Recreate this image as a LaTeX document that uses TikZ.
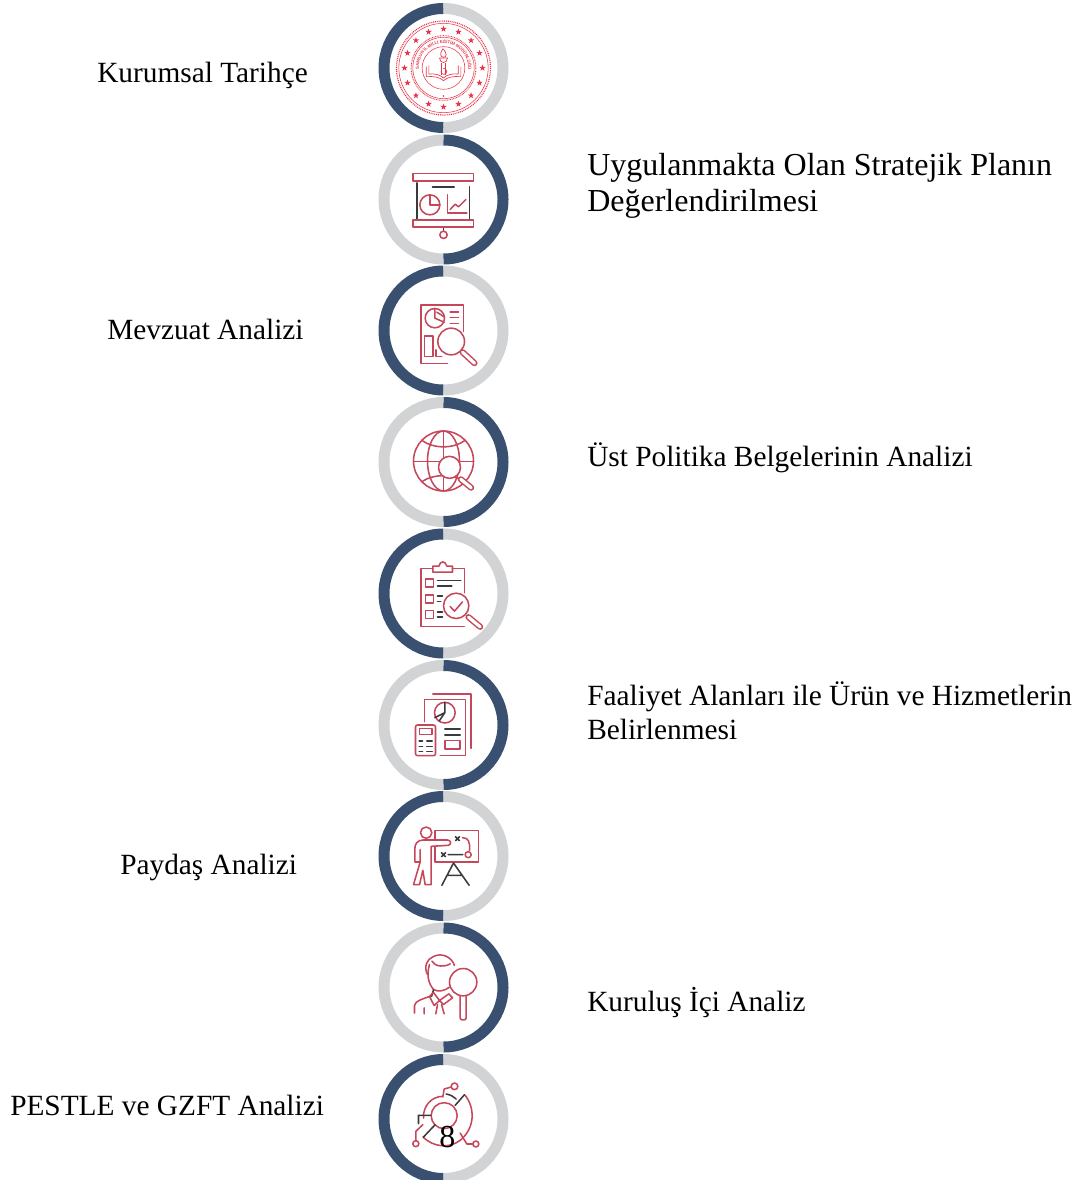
\documentclass[tikz,border=0pt]{standalone}
\usepackage{fontspec}
\setmainfont{Liberation Serif}
\newfontfamily\emblemfont{Liberation Sans}
\usetikzlibrary{decorations.text}
\definecolor{navy}{HTML}{3A5070}
\definecolor{ringgrey}{HTML}{D1D3D4}
\definecolor{iconred}{HTML}{C4475A}
\definecolor{emblemred}{HTML}{E8344A}
\definecolor{icondark}{HTML}{3A3A3C}
\tikzset{
  ringpart/.style={line width=8.25pt,line cap=butt},
  label/.style={anchor=base west,inner sep=0pt,font=\fontsize{22pt}{24pt}\selectfont},
  biglabel/.style={label,font=\fontsize{24pt}{26pt}\selectfont},
  ic/.style={draw=iconred,line width=1.15pt,line join=round,line cap=round,fill=none},
  dk/.style={draw=icondark,line width=1.15pt,line cap=round,fill=none},
  em/.style={draw=emblemred,line width=.4pt,fill=none}
}
\newcommand{\ringL}[2]{% navy on the left
  \draw[ringpart,navy] (#1,#2) ++(-90:59.5) arc (-90:-270:59.5);
  \draw[ringpart,ringgrey] (#1,#2) ++(-90:59.5) arc (-90:90:59.5);}
\newcommand{\ringR}[2]{% navy on the right
  \draw[ringpart,ringgrey] (#1,#2) ++(-90:59.5) arc (-90:-270:59.5);
  \draw[ringpart,navy] (#1,#2) ++(-90:59.5) arc (-90:90:59.5);}
\newcommand{\handlebar}[2]{%
  \draw[iconred,line width=4.6pt,line cap=round] #1 -- #2;
  \draw[white,line width=2.4pt,line cap=round] #1 -- #2;}
\begin{document}
\begin{tikzpicture}[x=.75pt,y=-.75pt]
\clip (0,0) rectangle (1089,1180);
% rings
\ringL{443.5}{68}
\ringR{443.5}{199.5}
\ringL{443.5}{330.5}
\ringR{443.5}{462}
\ringL{443.5}{593.5}
\ringR{443.5}{725}
\ringL{443.5}{856}
\ringR{443.5}{987.5}
\ringL{443.5}{1119}
% emblem
\begin{scope}[shift={(443.5,68)},x=.25pt,y=-.25pt]
  \draw[emblemred,line width=.9pt,dash pattern=on .7pt off .7pt] (0,0) circle (141);
  \draw[em] (0,0) circle (134);
  \draw[emblemred,line width=.7pt,dash pattern=on .6pt off .6pt] (0,0) circle (97);
  \draw[em] (0,0) circle (92);
  \draw[em] (0,0) circle (64);
  \foreach \a in {0,22.5,...,337.5}{
    \fill[emblemred,shift={(\a:117)}] (-90:10)--(-54:4)--(-18:10)--(18:4)--(54:10)--(90:4)--(126:10)--(162:4)--(198:10)--(234:4)--cycle;
  }
  \fill[emblemred] (0,84) circle (2.5);
  % torch
  \draw[em,line width=.5pt] (-2,-58) .. controls (-12,-42) and (-10,-34) .. (0,-32) .. controls (10,-34) and (12,-42) .. (-2,-58);
  \draw[em,line width=.5pt] (-12,-30) -- (12,-30) .. controls (12,-12) and (-12,-12) .. (-12,-30);
  \draw[em] (-6,-15) -- (-6,20) (6,-15) -- (6,20);
  % book
  \draw[em,line width=.5pt] (-52,-4) -- (-52,26) .. controls (-30,24) and (-10,28) .. (0,38) .. controls (10,28) and (30,24) .. (52,26) -- (52,-4);
  \draw[em,line width=.5pt] (-44,-8) -- (-44,18) .. controls (-28,16) and (-10,20) .. (0,30) .. controls (10,20) and (28,16) .. (44,18) -- (44,-8);
  \draw[em,line width=.5pt] (-8,10) arc (180:-100:9);
  \fill[emblemred] (7,10) circle (1.8);
\end{scope}
\begin{scope}[shift={(443.5,68)},x=.25pt,y=.25pt]
  \path[decorate,decoration={text along path,text align=center,
    text={|\emblemfont\bfseries\fontsize{3.2pt}{4pt}\selectfont\color{emblemred}|SAMSUN İL MİLLİ EĞİTİM MÜDÜRLÜĞÜ}}]
    (225:74) arc (225:-45:74);
\end{scope}
% icon 2: presentation
\begin{scope}[shift={(443.5,199.5)},x=.25pt,y=-.25pt,shift={(-220,-598)}]
  \draw[ic] (128,520) rectangle (310,542);
  \draw[dk] (140,548)--(140,658) (298,560)--(298,658) (187,561)--(252,561) (220,680)--(220,692);
  \draw[ic] (179,614) circle (30);
  \draw[ic] (179,584)--(179,614)--(209,614);
  \draw[ic] (232,584)--(232,638)--(290,638);
  \draw[ic] (240,628)--(255,612)--(265,620)--(287,598);
  \draw[ic] (128,660) rectangle (310,680);
  \draw[ic] (220,704) circle (11);
\end{scope}
% icon 3: report with magnifier
\begin{scope}[shift={(443.5,330.5)},x=.25pt,y=-.25pt,shift={(-220,-197)}]
  \draw[ic] (232,296)--(152,296)--(152,120)--(280,120)--(280,200);
  \draw[ic] (194,160) circle (29);
  \draw[ic] (194,131)--(194,160)--(222,172) (200,142)--(222,156);
  \draw[ic] (240,142)--(265,142) (240,158)--(265,158) (240,176)--(265,176);
  \draw[ic] (163,213) rectangle (188,275);
  \draw[ic] (198,255)--(198,275)--(215,275);
  \draw[ic,fill=white] (243,230) circle (40);
  \handlebar{(277,262)}{(313,295)}
\end{scope}
% icon 4: globe
\begin{scope}[shift={(443.5,462)},x=.25pt,y=-.25pt,shift={(-220,-591)}]
  \draw[ic] (220,588) circle (90);
  \draw[ic] (220,588) ellipse (48 and 90);
  \draw[ic] (220,498)--(220,678) (130,590)--(310,590);
  \draw[ic] (155,526) .. controls (190,552) and (250,552) .. (285,526);
  \draw[ic] (155,650) .. controls (190,626) and (250,626) .. (285,650);
  \draw[ic,fill=white] (238,607) circle (33);
  \handlebar{(272,643)}{(303,668)}
\end{scope}
% icon 5: checklist
\begin{scope}[shift={(443.5,593.5)},x=.25pt,y=-.25pt,shift={(-220,-197)}]
  \draw[ic] (188,122)--(152,122)--(152,296)--(282,296) (247,122)--(283,122)--(283,195);
  \draw[ic] (188,133)--(188,115)--(206,115) .. controls (210,98) and (226,98) .. (230,115) --(247,115)--(247,133)--cycle;
  \draw[ic] (166,153) rectangle (190,178) (166,201) rectangle (190,226) (166,248) rectangle (190,272);
  \draw[dk] (202,158)--(272,158) (202,174)--(245,174) (202,205)--(217,205) (202,221)--(212,221) (202,253)--(217,253) (202,268)--(217,268);
  \draw[ic,fill=white] (258,234) circle (38);
  \draw[ic] (240,236)--(253,250)--(277,222);
  \handlebar{(295,268)}{(330,297)}
\end{scope}
% icon 6: documents and calculator
\begin{scope}[shift={(443.5,725)},x=.25pt,y=-.25pt,shift={(-220,-590)}]
  \draw[ic] (188,497)--(302,497)--(302,660);
  \draw[ic] (163,580)--(163,514)--(286,514)--(286,682)--(210,682);
  \draw[ic] (224,553) circle (31);
  \draw[dk] (224,522)--(224,553)--(207,578) (194,568)--(224,553);
  \draw[dk] (224,602)--(270,602) (224,620)--(270,620);
  \draw[ic] (224,636) rectangle (270,662);
  \draw[ic,rounded corners=1.5pt] (136,590) rectangle (196,682);
  \draw[ic] (148,601) rectangle (186,618);
  \foreach \yy in {638,654,670}{
    \draw[dk] (147,\yy)--(157,\yy) (170,\yy)--(186,\yy);
  }
\end{scope}
% icon 7: teacher at board
\begin{scope}[shift={(443.5,856)},x=.25pt,y=-.25pt,shift={(-220,-197)}]
  \draw[ic] (168,127) circle (17);
  \draw[ic] (232,149)--(158,149) .. controls (142,150) and (134,160) .. (134,175) --(134,215)--(150,215)--(150,178) (150,215)--(130,283)--(148,283)--(158,240)--(165,283)--(183,283)--(183,168)--(234,165) .. controls (244,164) and (244,149) .. (232,149);
  \draw[ic] (195,149)--(195,120)--(325,120)--(325,215)--(195,215)--(195,168);
  \draw[dk] (256,139)--(268,151) (268,139)--(256,151) (214,187)--(226,199) (226,187)--(214,199) (234,193)--(278,193);
  \draw[ic] (277,142) .. controls (295,142) and (300,155) .. (298,180);
  \draw[ic] (294,193) circle (9);
  \draw[dk] (250,218)--(215,285) (250,218)--(297,285) (233,255)--(274,255);
\end{scope}
% icon 8: person with magnifier
\begin{scope}[shift={(443.5,987.5)},x=.25pt,y=-.25pt,shift={(-220,-591)}]
  \draw[ic] (253,525) .. controls (245,500) and (215,485) .. (190,498) .. controls (170,505) and (160,530) .. (172,552);
  \draw[ic] (185,512) .. controls (195,530) and (225,530) .. (240,520);
  \draw[ic] (178,522) .. controls (170,550) and (172,575) .. (190,597) .. controls (205,606) and (225,600) .. (238,590);
  \draw[dk] (190,598)--(184,618);
  \draw[ic] (133,668)--(133,645) .. controls (135,630) and (160,625) .. (178,618);
  \draw[ic] (178,618)--(190,606)--(208,630)--(236,610)--(247,622)--(220,642)--(208,630)--(192,645)--cycle;
  \draw[ic] (202,642)--(197,670) (214,642)--(222,670) (162,652)--(162,670);
  \draw[ic,fill=white] (279,575) circle (41);
  \draw[ic,rounded corners=1.5pt] (270,616)--(270,688)--(288,688)--(288,616);
\end{scope}
% icon 9: cycle
\begin{scope}[shift={(443.5,1119)},x=.25pt,y=-.25pt,shift={(-220,-208)}]
  \draw[ic] (222,198) circle (39);
  \draw[ic] (218,140) .. controls (185,140) and (158,168) .. (160,205);
  \draw[ic] (285,137) .. controls (315,175) and (315,235) .. (270,272) .. controls (235,298) and (190,292) .. (158,262);
  \draw[dk] (228,133) .. controls (240,135) and (250,140) .. (258,148) (255,167)--(283,135);
  \draw[dk] (145,222)--(145,197)--(182,197) (160,262)--(195,225);
  \draw[ic] (218,142)--(222,118)--(243,112);
  \draw[ic] (253,110) circle (10);
  \draw[ic] (137,282) circle (9);
  \draw[ic] (137,272)--(137,245)--(158,225);
  \draw[ic] (317,283) circle (9);
  \draw[ic] (307,283)--(290,283)--(270,250);
\end{scope}
% labels
\node[label] (kurumsal) at (97,83) {Kurumsal Tarihçe};
\node[biglabel] (uygulanmakta) at (587,176) {Uygulanmakta Olan Stratejik Planın};
\node[biglabel] (degerlendirme) at (587,212) {Değerlendirilmesi};
\node[label] (mevzuat) at (107,339.5) {Mevzuat Analizi};
\node[label] (ust) at (587,466) {Üst Politika Belgelerinin Analizi};
\node[label] (faaliyet) at (587,705) {Faaliyet Alanları ile Ürün ve Hizmetlerin};
\node[label] (belirlenmesi) at (587,739.5) {Belirlenmesi};
\node[label] (paydas) at (120,874) {Paydaş Analizi};
\node[label] (kurulus) at (587,1011) {Kuruluş İçi Analiz};
\node[label] (pestle) at (10,1115) {PESTLE ve GZFT Analizi};
\node[biglabel] (sayfa) at (439,1147) {8};
\end{tikzpicture}
\end{document}
